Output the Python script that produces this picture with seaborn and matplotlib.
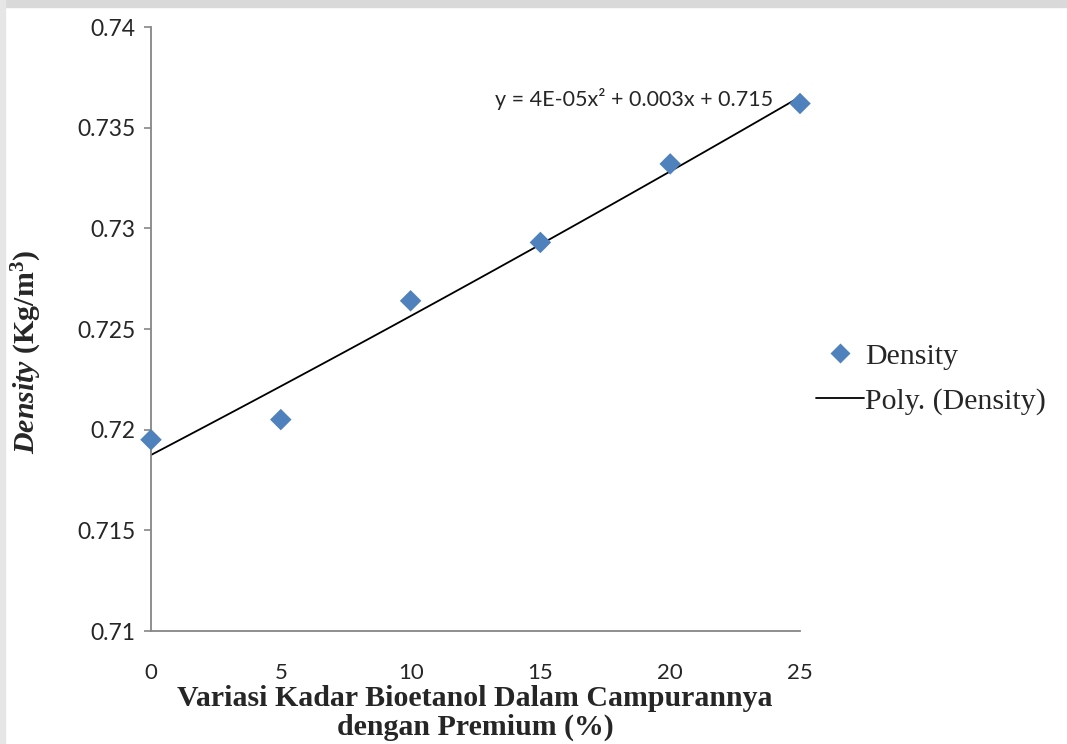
import matplotlib
matplotlib.use("Agg")
import matplotlib.pyplot as plt
import seaborn as sns
import numpy as np
import pandas as pd
from matplotlib.lines import Line2D
from matplotlib.patches import Rectangle

# Data
kadar = [0, 5, 10, 15, 20, 25]
density = [0.7195, 0.7205, 0.7264, 0.7293, 0.7332, 0.7362]
x_ticks = [0, 5, 10, 15, 20, 25]
y_ticks = [0.71, 0.715, 0.72, 0.725, 0.73, 0.735, 0.74]
y_tick_labels = ["0.71", "0.715", "0.72", "0.725", "0.73", "0.735", "0.74"]
equation = "y = 4E-05x\u00b2 + 0.003x + 0.715"

df = pd.DataFrame({"kadar": kadar, "density": density})

sns.set_theme(style="white")
plt.rcParams["font.family"] = ["Lato", "DejaVu Sans"]
plt.rcParams["mathtext.fontset"] = "custom"
plt.rcParams["mathtext.rm"] = "Liberation Serif:bold"
plt.rcParams["mathtext.it"] = "Liberation Serif:italic:bold"
plt.rcParams["mathtext.bf"] = "Liberation Serif:bold"

fig = plt.figure(figsize=(10.67, 7.44), dpi=100)
ax = fig.add_axes([151 / 1067, 1 - 631 / 744, 649 / 1067, 604 / 744])

# light gray strips of the page at top/left
fig.patches.append(Rectangle((0, 1 - 7 / 744), 1, 7 / 744, transform=fig.transFigure,
                             color="#d9d9d9", zorder=-10))
fig.patches.append(Rectangle((0, 0), 5 / 1067, 1, transform=fig.transFigure,
                             color="#e6e6e6", zorder=-10))

blue = "#4F81BD"
sns.regplot(data=df, x="kadar", y="density", order=2, ci=None, scatter=False,
            ax=ax, line_kws={"color": "black", "lw": 1.3}, truncate=True)
sns.scatterplot(data=df, x="kadar", y="density", marker="D", s=120, color=blue,
                edgecolor="none", ax=ax, zorder=3, clip_on=False)

ax.set_xlim(0, 25)
ax.set_ylim(0.71, 0.74)
ax.set_xticks(x_ticks)
ax.set_xticklabels([str(v) for v in x_ticks], fontsize=16)
ax.set_yticks(y_ticks)
ax.set_yticklabels(y_tick_labels, fontsize=16.5)

for s in ["top", "right"]:
    ax.spines[s].set_visible(False)
for s in ["left", "bottom"]:
    ax.spines[s].set_color("#868686")
    ax.spines[s].set_linewidth(1.3)

ax.tick_params(axis="y", which="major", left=True, length=5, width=1.2,
               color="#868686", pad=6)
ax.tick_params(axis="x", which="major", bottom=False, length=0, pad=23)

ax.set_xlabel("")
ax.set_ylabel("")

fig.text(475 / 1067, 1 - 713 / 744,
         "Variasi Kadar Bioetanol Dalam Campurannya\ndengan Premium (%)",
         ha="center", va="center", fontsize=21.5, fontweight="bold",
         family="Liberation Serif", linespacing=1.08)

fig.text(27 / 1067, 1 - 352 / 744, r"$\mathit{Density}$ $\mathrm{(Kg/m^3)}$",
         rotation=90, ha="center", va="center", fontsize=21.5)

fig.text(634 / 1067, 1 - 99 / 744, equation, ha="center", va="center", fontsize=15.5)

handles = [
    Line2D([], [], marker="D", color=blue, linestyle="none", markersize=10,
           markeredgecolor="none"),
    Line2D([], [], color="black", lw=1.3),
]
leg = fig.legend(handles, ["Density", "Poly. (Density)"], loc="center left",
                 bbox_to_anchor=(816 / 1067, 1 - 379 / 744), frameon=False,
                 prop={"family": "Liberation Serif", "size": 21.5},
                 handlelength=1.6, handletextpad=0.05, labelspacing=0.6,
                 borderaxespad=0, borderpad=0)

fig.savefig("out.png", dpi=100)
